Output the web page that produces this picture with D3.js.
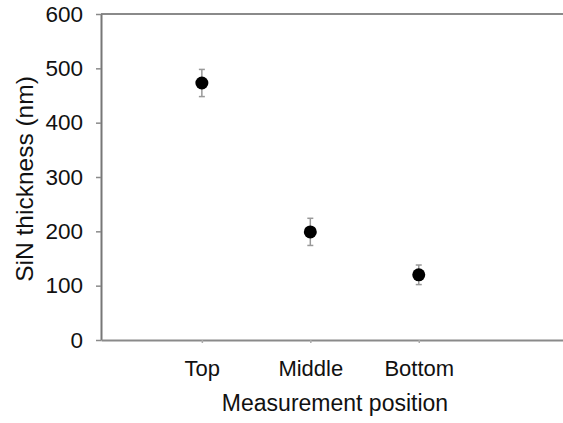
<!DOCTYPE html>
<html>
<head>
<meta charset="utf-8">
<script src="https://cdn.jsdelivr.net/npm/d3@7"></script>
<style>
  body { margin: 0; background: #fff; }
  svg { display: block; font-family: "Liberation Sans", Arial, sans-serif; }
</style>
</head>
<body>
<svg id="chart"></svg>
<script>
// DATA
var positions = ["Top", "Middle", "Bottom"];
var thickness = [473, 199, 120];
var thicknessErr = [25, 25, 18];
var yTicks = [0, 100, 200, 300, 400, 500, 600];

// SIZES
var width = 563;
var height = 423;
var margin = {top: 14, right: 0, bottom: 83, left: 101};

var svg = d3.select("#chart")
  .attr("width", width)
  .attr("height", height);

// scales
var xScale = d3.scaleLinear()
  .domain([0.07, 4.33])
  .range([margin.left, width - margin.right]);

var yScale = d3.scaleLinear()
  .domain([0, 600])
  .range([height - margin.bottom, margin.top]);

var axisColor = "#8a8a8a";

// top border line
svg.append("line")
  .attr("x1", margin.left)
  .attr("x2", width - margin.right)
  .attr("y1", yScale(600))
  .attr("y2", yScale(600))
  .attr("stroke", axisColor)
  .attr("stroke-width", 2);

// y axis
var yAxis = d3.axisLeft(yScale)
  .tickValues(yTicks)
  .tickSize(5)
  .tickPadding(13)
  .tickSizeOuter(0);

var yAxisG = svg.append("g")
  .attr("transform", "translate(" + margin.left + ",0)")
  .call(yAxis);

yAxisG.select(".domain").attr("stroke", "#777").attr("stroke-width", 2);
yAxisG.selectAll(".tick line").attr("stroke", axisColor).attr("stroke-width", 1.5);
yAxisG.selectAll(".tick text")
  .attr("fill", "#111")
  .style("font-size", "22.5px");

// x axis
var xAxis = d3.axisBottom(xScale)
  .tickValues([1, 2, 3])
  .tickFormat((d, i) => positions[i])
  .tickSize(3)
  .tickPadding(17)
  .tickSizeOuter(0);

var xAxisG = svg.append("g")
  .attr("transform", "translate(0," + (height - margin.bottom) + ")")
  .call(xAxis);

xAxisG.select(".domain").attr("stroke", axisColor).attr("stroke-width", 2);
xAxisG.selectAll(".tick line").attr("stroke", "#aaa").attr("stroke-width", 1.5);
xAxisG.selectAll(".tick text")
  .attr("fill", "#111")
  .style("font-size", "22px");

// axis titles
svg.append("text")
  .attr("x", 335)
  .attr("y", 411)
  .attr("text-anchor", "middle")
  .attr("fill", "#111")
  .style("font-size", "23px")
  .text("Measurement position");

svg.append("text")
  .attr("transform", "translate(33,179) rotate(-90)")
  .attr("text-anchor", "middle")
  .attr("fill", "#111")
  .style("font-size", "24.5px")
  .text("SiN thickness (nm)");

// error bars
var points = svg.append("g");
var capW = 6;

points.selectAll(".err")
  .data(thickness)
  .join("line")
  .attr("class", "err")
  .attr("x1", (d, i) => xScale(i + 1))
  .attr("x2", (d, i) => xScale(i + 1))
  .attr("y1", (d, i) => yScale(d + thicknessErr[i]))
  .attr("y2", (d, i) => yScale(d - thicknessErr[i]))
  .attr("stroke", "#999")
  .attr("stroke-width", 1.5);

points.selectAll(".capTop")
  .data(thickness)
  .join("line")
  .attr("class", "capTop")
  .attr("x1", (d, i) => xScale(i + 1) - capW / 2)
  .attr("x2", (d, i) => xScale(i + 1) + capW / 2)
  .attr("y1", (d, i) => yScale(d + thicknessErr[i]))
  .attr("y2", (d, i) => yScale(d + thicknessErr[i]))
  .attr("stroke", "#999")
  .attr("stroke-width", 1.5);

points.selectAll(".capBottom")
  .data(thickness)
  .join("line")
  .attr("class", "capBottom")
  .attr("x1", (d, i) => xScale(i + 1) - capW / 2)
  .attr("x2", (d, i) => xScale(i + 1) + capW / 2)
  .attr("y1", (d, i) => yScale(d - thicknessErr[i]))
  .attr("y2", (d, i) => yScale(d - thicknessErr[i]))
  .attr("stroke", "#999")
  .attr("stroke-width", 1.5);

// markers
points.selectAll("circle")
  .data(thickness)
  .join("circle")
  .attr("cx", (d, i) => xScale(i + 1))
  .attr("cy", (d) => yScale(d))
  .attr("r", 6.5)
  .attr("fill", "#000");
</script>
</body>
</html>
